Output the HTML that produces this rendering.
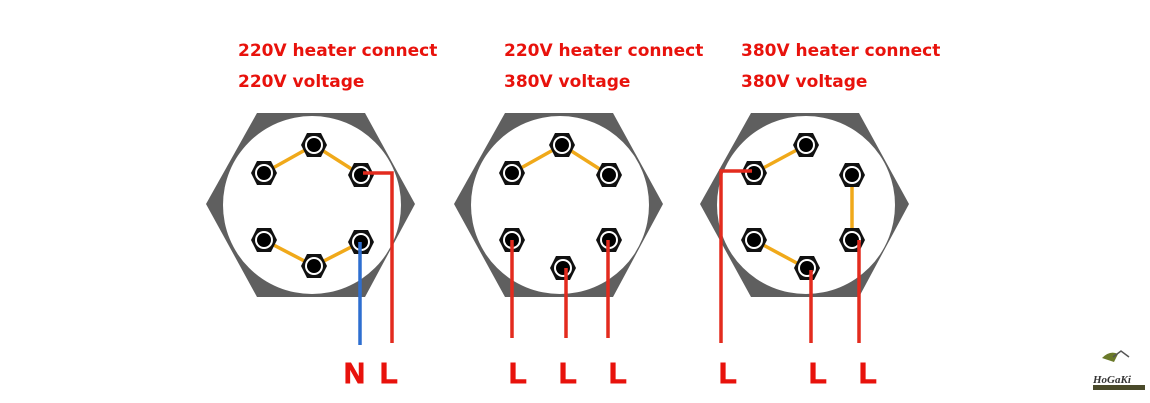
<!DOCTYPE html>
<html><head><style>
body{margin:0;background:#fff;}
svg{display:block}
text{font-family:"DejaVu Sans","Liberation Sans",sans-serif;font-weight:bold;fill:#e8120c}
</style></head><body>
<svg width="1150" height="403" viewBox="0 0 1150 403">
<defs>
<g id="hex"><polygon points="-55,-92 53,-92 103,-1 53,92 -55,92 -106,-1" fill="#5f5f5f"/><circle cx="0" cy="0" r="89" fill="#fff"/></g>
<g id="t"><polygon points="-7,-12 7,-12 13,0 7,12 -7,12 -13,0" fill="#111"/><circle r="9" fill="#fff"/><circle r="7" fill="#000"/></g>
</defs>
<text x="238" y="56" font-size="17">220V heater connect</text>
<text x="238" y="87" font-size="17">220V voltage</text>
<text x="504" y="56" font-size="17">220V heater connect</text>
<text x="504" y="87" font-size="17">380V voltage</text>
<text x="741" y="56" font-size="17">380V heater connect</text>
<text x="741" y="87" font-size="17">380V voltage</text>

<use href="#hex" x="312" y="205"/>
<use href="#hex" x="560" y="205"/>
<use href="#hex" x="806" y="205"/>

<g stroke="#f0a91a" stroke-width="3.5" fill="none">
<polyline points="264,173 314,145 361,175"/>
<polyline points="264,240 314,266 361,242"/>
<polyline points="512,173 562,145 609,175"/>
<line x1="754" y1="173" x2="806" y2="145"/>
<line x1="852" y1="175" x2="852" y2="240"/>
<line x1="754" y1="240" x2="806" y2="268"/>
</g>

<g>
<use href="#t" x="264" y="173"/><use href="#t" x="314" y="145"/><use href="#t" x="361" y="175"/>
<use href="#t" x="264" y="240"/><use href="#t" x="314" y="266"/><use href="#t" x="361" y="242"/>
<use href="#t" x="512" y="173"/><use href="#t" x="562" y="145"/><use href="#t" x="609" y="175"/>
<use href="#t" x="512" y="240"/><use href="#t" x="563" y="268"/><use href="#t" x="609" y="240"/>
<use href="#t" x="754" y="173"/><use href="#t" x="806" y="145"/><use href="#t" x="852" y="175"/>
<use href="#t" x="754" y="240"/><use href="#t" x="807" y="268"/><use href="#t" x="852" y="240"/>
</g>

<g stroke="#e32b1e" stroke-width="3.5" fill="none">
<polyline points="363,173 392,173 392,343"/>
<line x1="512" y1="240" x2="512" y2="338"/>
<line x1="566" y1="268" x2="566" y2="338"/>
<line x1="608" y1="240" x2="608" y2="338"/>
<polyline points="752,171 721,171 721,343"/>
<line x1="811" y1="270" x2="811" y2="343"/>
<line x1="859" y1="240" x2="859" y2="343"/>
</g>
<line x1="360" y1="242" x2="360" y2="345" stroke="#2e6fd0" stroke-width="3.5"/>

<g>
<text x="344" y="383" font-size="29" stroke="#e8120c" stroke-width="1" style="font-family:'Liberation Sans',sans-serif">N</text>
<text x="380" y="383" font-size="29" stroke="#e8120c" stroke-width="1" style="font-family:'Liberation Sans',sans-serif">L</text>
<text x="509" y="383" font-size="29" stroke="#e8120c" stroke-width="1" style="font-family:'Liberation Sans',sans-serif">L</text>
<text x="559" y="383" font-size="29" stroke="#e8120c" stroke-width="1" style="font-family:'Liberation Sans',sans-serif">L</text>
<text x="609" y="383" font-size="29" stroke="#e8120c" stroke-width="1" style="font-family:'Liberation Sans',sans-serif">L</text>
<text x="719" y="383" font-size="29" stroke="#e8120c" stroke-width="1" style="font-family:'Liberation Sans',sans-serif">L</text>
<text x="809" y="383" font-size="29" stroke="#e8120c" stroke-width="1" style="font-family:'Liberation Sans',sans-serif">L</text>
<text x="859" y="383" font-size="29" stroke="#e8120c" stroke-width="1" style="font-family:'Liberation Sans',sans-serif">L</text>
</g>

<g>
<path d="M1102,358 q8,-8 16,-4 l-4,8 z" fill="#6b7a2a"/>
<path d="M1113,357 l8,-6 l8,6" stroke="#555" fill="none" stroke-width="1.5"/>
<text x="1093" y="383" font-size="11" style="fill:#333;font-style:italic;font-family:'Liberation Serif',serif">HoGaKi</text>
<rect x="1093" y="385" width="52" height="5" fill="#4a4a2a"/>
</g>
</svg>
</body></html>
